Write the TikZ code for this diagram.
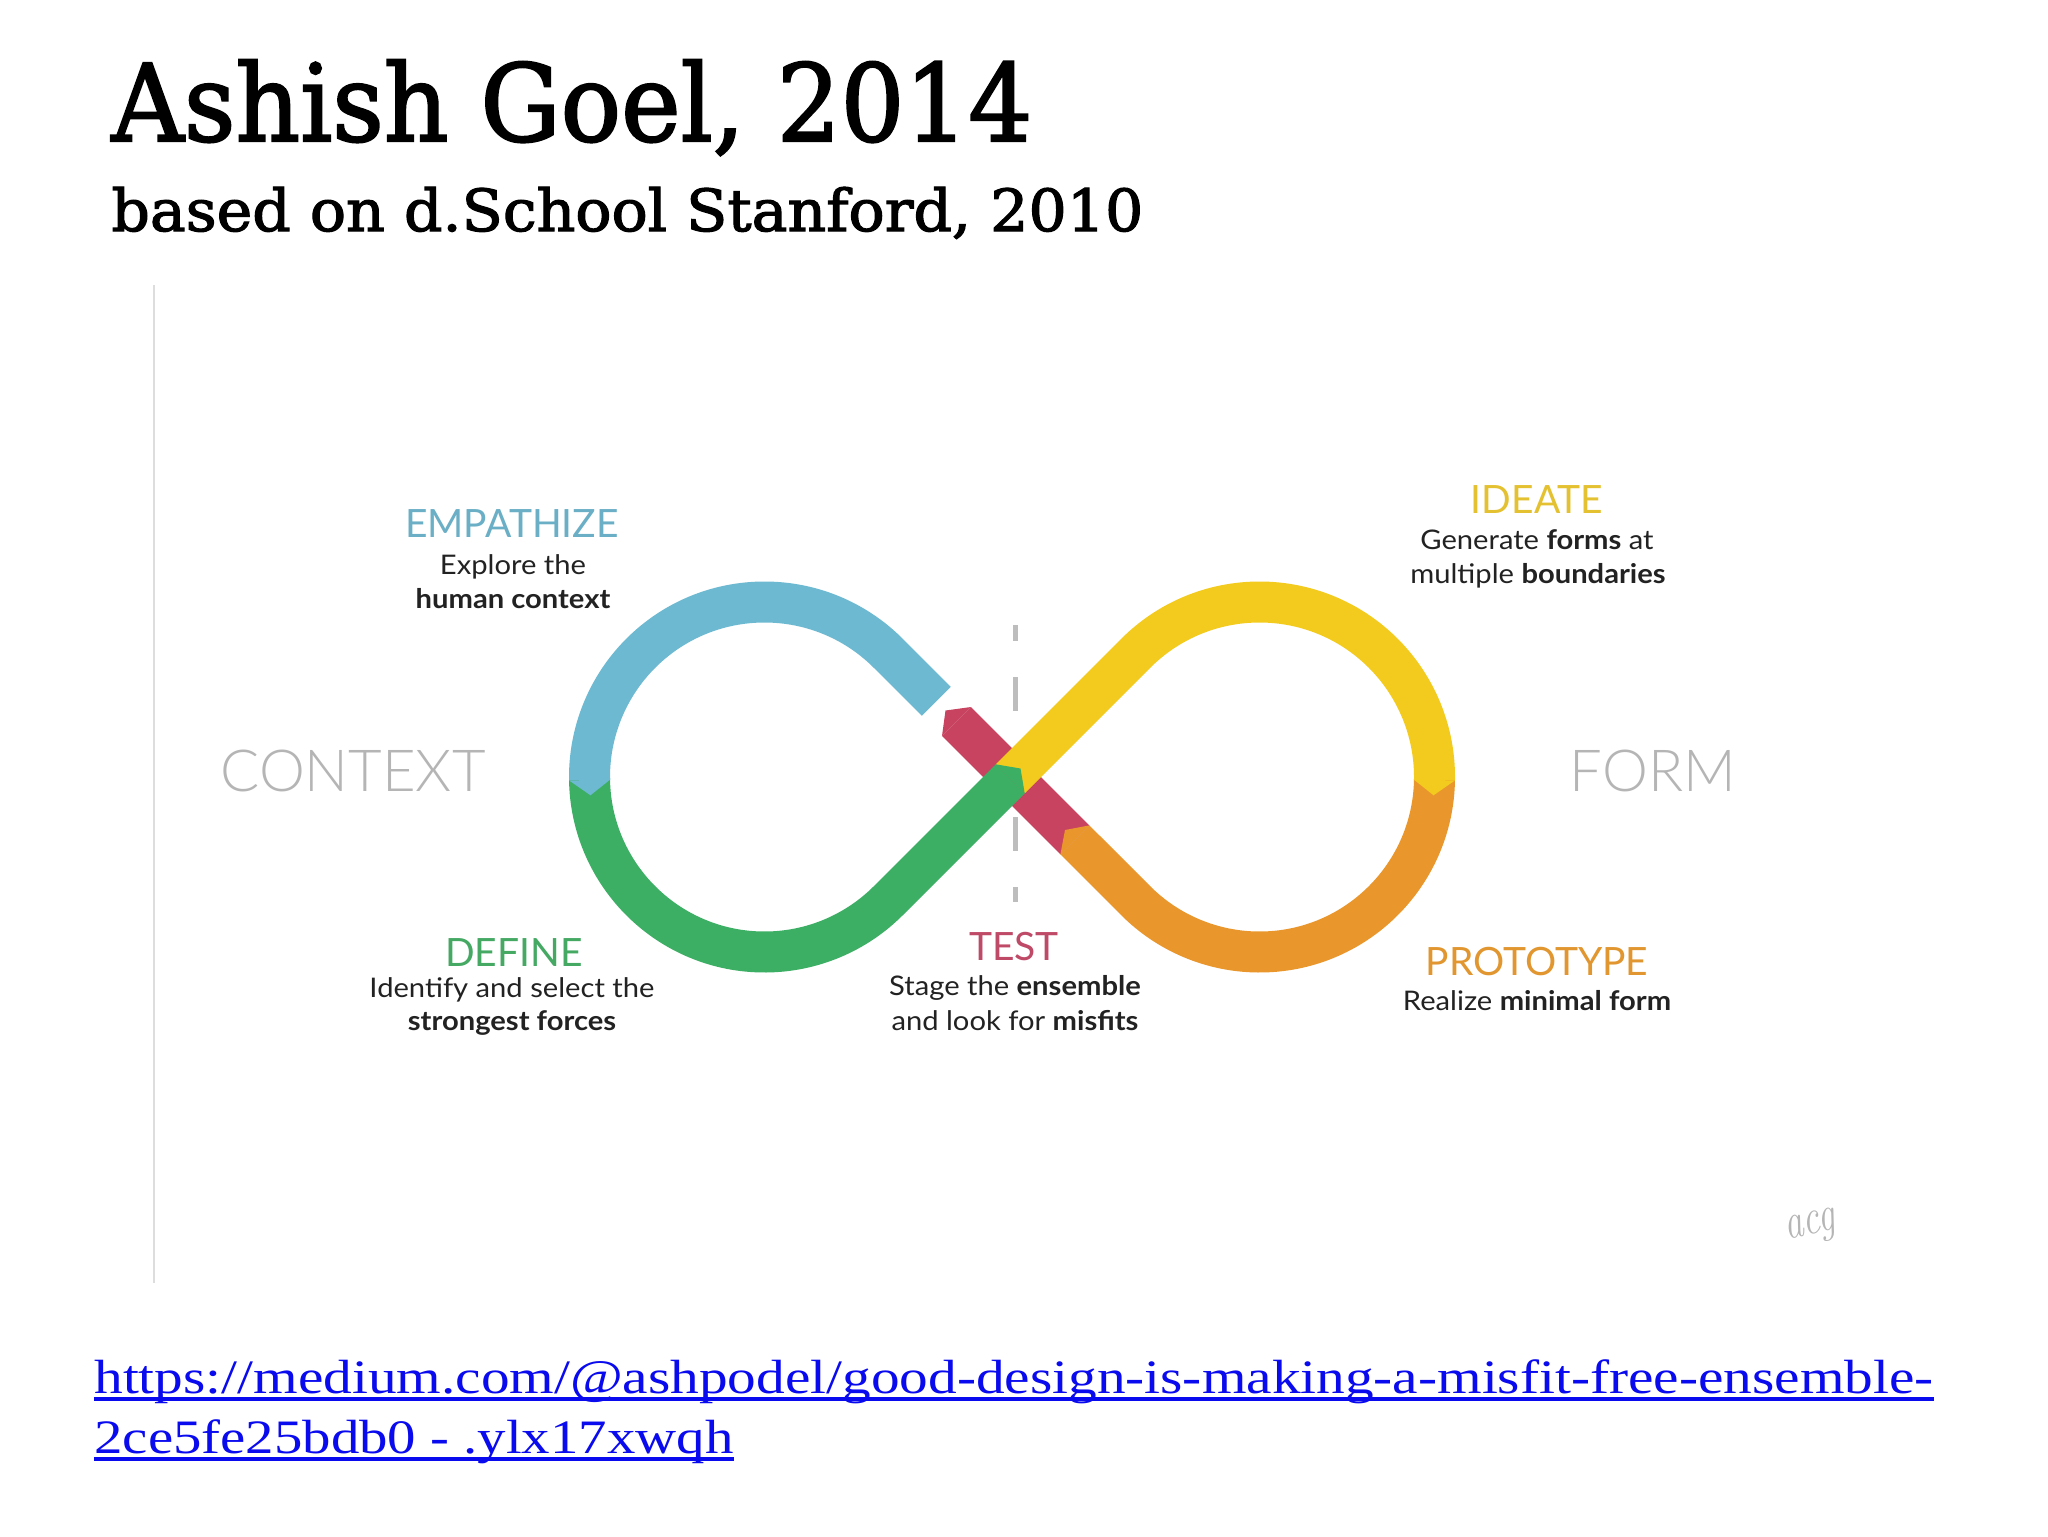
\documentclass[tikz,border=0pt]{standalone}
\usepackage{graphicx}
\usepackage{fontspec}
\setmainfont{Lato}
\newfontfamily\slabfont{DejaVu Serif}[FakeBold=2]
\newfontfamily\thinfont{Lato Light}
\newfontfamily\linkfont{Liberation Serif}
\newfontfamily\sigfont{Latin Modern Roman}
\usetikzlibrary{calc}
\newcommand{\dx}[1]{\scalebox{1.08}[1]{#1}}
\definecolor{cblue}{HTML}{6CB9D1}
\definecolor{cgreen}{HTML}{3CAF64}
\definecolor{cyellow}{HTML}{F3CB1E}
\definecolor{corange}{HTML}{E9972C}
\definecolor{cred}{HTML}{C8435F}
\definecolor{tblue}{HTML}{6BAFC6}
\definecolor{tyellow}{HTML}{E4C130}
\definecolor{tgreen}{HTML}{45A964}
\definecolor{tred}{HTML}{BF4A67}
\definecolor{torange}{HTML}{E1962F}
\definecolor{tgrey}{HTML}{B5B5B5}
\definecolor{textdark}{HTML}{222222}
\definecolor{linkblue}{HTML}{0A0AEE}
\definecolor{dashgrey}{HTML}{BDBDBD}
\definecolor{framegrey}{HTML}{DDDDDD}
\begin{document}
\begin{tikzpicture}[x=0.5pt,y=-0.5pt,
  seg/.style={line width=20.5pt, line cap=butt},
  phase/.style={font=\fontsize{19.5}{23}\selectfont, anchor=base, inner sep=0pt},
  desc/.style={font=\fontsize{13.5}{16}\selectfont, anchor=base, inner sep=0pt, text=textdark},
  side/.style={font=\thinfont\fontsize{29}{34}\selectfont, anchor=base, inner sep=0pt, text=tgrey},
  linktext/.style={font=\linkfont\fontsize{24}{28}\selectfont, anchor=base west, inner sep=0pt, text=linkblue},
  uline/.style={draw=linkblue, line width=2.2pt}
]
\useasboundingbox (0,0) rectangle (2048,1536);
\fill[white] (0,0) rectangle (2048,1536);

% title
\node[anchor=base west, inner sep=0pt, font=\slabfont\fontsize{53.5}{60}\selectfont] (title) at (111,141)
  {\resizebox{460.5pt}{\height}{Ashish Goel, 2014}};
\node[anchor=base west, inner sep=0pt, font=\slabfont\fontsize{29}{34}\selectfont] (subtitle) at (111,231)
  {\resizebox{516pt}{\height}{based on d.School Stanford, 2010}};

% frame line of the embedded picture
\draw[framegrey, line width=1pt] (154,285) -- (154,1283);

% dashed centre line
\draw[dashgrey, line width=2.5pt, dash pattern=on 17pt off 18pt, dash phase=9pt] (1015,625) -- (1015,902);

% infinity loop
\coordinate (O) at (1012,777);
\coordinate (C1) at (764.5,777);
\coordinate (C2) at (1259.5,777);

% TEST (red)
\draw[seg, cred] (1074.9,839.9) -- (956.5,721.5);
\fill[cred] (971,707) -- (942,736) -- (945.5,710.5) -- cycle;
% PROTOTYPE (orange)
\draw[seg, corange] ($(C2)+(360.5:175)$) arc[start angle=360.5, end angle=495, radius=175] -- (1074.9,839.9);
\fill[corange] (1089.4,825.4) -- (1060.4,854.4) -- (1065,830) -- cycle;
% IDEATE (yellow)
\draw[seg, cyellow] (1010.2,778.8) -- ($(C2)+(225:175)$) arc[start angle=225, end angle=361, radius=175];
\fill[cyellow] ($(C2)+(361:154.5)$) -- ($(C2)+(361:195.5)$) -- ($(C2)+(366:175)$) -- cycle;
% DEFINE (green)
\draw[seg, cgreen] ($(C1)+(-180.5:175)$) arc[start angle=-180.5, end angle=-315, radius=175] -- (1010.2,778.8);
\fill[cgreen] (1024.7,793.3) -- (995.7,764.3) -- (1020.5,768.5) -- cycle;
% EMPATHIZE (blue)
\draw[seg, cblue] (936.3,701.3) -- ($(C1)+(-45:175)$) arc[start angle=-45, end angle=-181, radius=175];
\fill[cblue] ($(C1)+(-181:154.5)$) -- ($(C1)+(-181:195.5)$) -- ($(C1)+(-186:175)$) -- cycle;

% labels
\node[phase, text=tblue] (empathize) at (512,537) {EMPATHIZE};
\node[desc] (emp1) at (513,574) {\dx{Explore the}};
\node[desc] (emp2) at (513,608) {\dx{\bfseries human context}};

\node[phase, text=tyellow] (ideate) at (1537,513) {IDEATE};
\node[desc] (ide1) at (1537,549) {\dx{Generate \textbf{forms} at}};
\node[desc] (ide2) at (1538,583) {\dx{multiple \textbf{boundaries}}};

\node[phase, text=tgreen] (define) at (514,966) {DEFINE};
\node[desc] (def1) at (512,997) {\dx{Identify and select the}};
\node[desc] (def2) at (512,1030) {\dx{\bfseries strongest forces}};

\node[phase, text=tred] (test) at (1014,960) {TEST};
\node[desc] (tst1) at (1015,995) {\dx{Stage the \textbf{ensemble}}};
\node[desc] (tst2) at (1015,1030) {\dx{and look for \textbf{misfits}}};

\node[phase, text=torange] (prototype) at (1537,975) {PROTOTYPE};
\node[desc] (pro1) at (1537,1010) {\dx{Realize \textbf{minimal form}}};

\node[side] (context) at (353,791) {CONTEXT};
\node[side] (form) at (1653,791) {FORM};

% signature
\node[anchor=base, inner sep=0pt, text=tgrey, rotate=12, font=\sigfont\itshape\fontsize{22}{26}\selectfont] (sig) at (1812,1234) {\scalebox{0.85}[1.15]{acg}};

% link
\node[linktext] (l1) at (94,1393) {\resizebox{919.5pt}{\height}{https://medium.com/@ashpodel/good-design-is-making-a-misfit-free-ensemble-}};
\node[linktext] (l2) at (94,1453) {\resizebox{319.5pt}{\height}{2ce5fe25bdb0 - .ylx17xwqh}};
\draw[uline] ($(l1.base west)+(0,6)$) -- ($(l1.base east)+(0,6)$);
\draw[uline] ($(l2.base west)+(0,6)$) -- ($(l2.base east)+(0,6)$);
\end{tikzpicture}
\end{document}
